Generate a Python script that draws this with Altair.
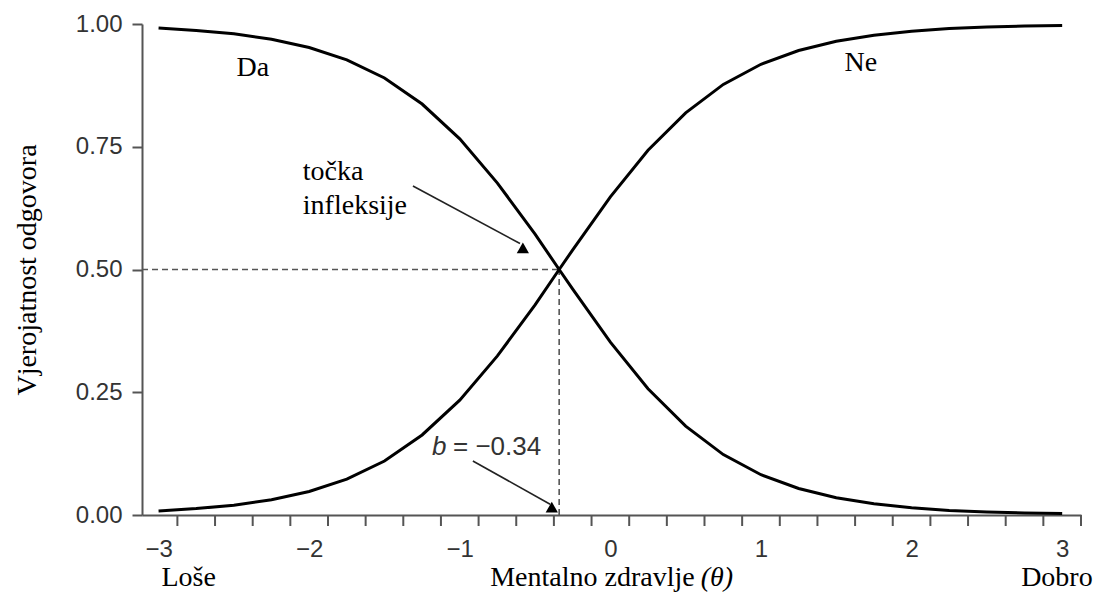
import altair as alt
import pandas as pd

# Item characteristic curves: probability of answering "Da" / "Ne" across theta
theta = [-3.0, -2.75, -2.5, -2.25, -2.0, -1.75, -1.5, -1.25, -1.0, -0.75, -0.5, -0.34,
         -0.25, 0.0, 0.25, 0.5, 0.75, 1.0, 1.25, 1.5, 1.75, 2.0, 2.25, 2.5, 2.75, 3.0]
p_ne = [0.008, 0.013, 0.020, 0.031, 0.048, 0.073, 0.110, 0.163, 0.234, 0.324, 0.428, 0.500,
        0.540, 0.648, 0.743, 0.819, 0.877, 0.918, 0.946, 0.965, 0.977, 0.985, 0.991, 0.994, 0.996, 0.997]
p_da = [0.992, 0.987, 0.980, 0.969, 0.952, 0.927, 0.890, 0.837, 0.766, 0.676, 0.572, 0.500,
        0.460, 0.352, 0.257, 0.181, 0.123, 0.082, 0.054, 0.035, 0.023, 0.015, 0.009, 0.006, 0.004, 0.003]

b_value = -0.34
x_ticks = [-3, -2, -1, 0, 1, 2, 3]
x_minor = [-2.875 + 0.25 * k for k in range(25)]
y_ticks = [0.0, 0.25, 0.5, 0.75, 1.0]

X_DOMAIN = [-3.11, 3.125]
W, H = 939, 491
SERIF = "Liberation Serif"
SANS = "Liberation Sans"

curves = pd.DataFrame({
    "theta": theta * 2,
    "p": p_ne + p_da,
    "odgovor": ["Ne"] * len(theta) + ["Da"] * len(theta),
})

xs = alt.Scale(domain=X_DOMAIN, nice=False, zero=False)
ys = alt.Scale(domain=[0, 1], nice=False, zero=False)

lines = alt.Chart(curves).mark_line(color="black", strokeWidth=3).encode(
    x=alt.X("theta:Q", scale=xs,
            axis=alt.Axis(values=x_ticks, format="d", title=None, grid=False,
                          ticks=False, labelPadding=22, labelFont=SANS,
                          labelFontSize=24, labelColor="#333", domainColor="#555",
                          domainWidth=2)),
    y=alt.Y("p:Q", scale=ys,
            axis=alt.Axis(values=y_ticks, format=".2f", title="Vjerojatnost odgovora",
                          grid=False, tickSize=10, tickWidth=2, tickColor="#555",
                          labelPadding=10, labelFont=SANS, labelFontSize=24,
                          labelColor="#333", domainColor="#555", domainWidth=2,
                          titleFont=SERIF, titleFontSize=28, titleFontWeight="normal",
                          titleColor="black", titlePadding=34)),
    detail="odgovor:N",
)

# minor tick marks under the x axis
minor = alt.Chart(pd.DataFrame({"t": x_minor})).mark_rule(
    color="#555", strokeWidth=2
).encode(x=alt.X("t:Q", scale=xs), y=alt.value(H), y2=alt.value(H + 11))

# dashed guides to the inflection point
guides = pd.DataFrame({
    "x": [X_DOMAIN[0], b_value],
    "y": [0.5, 0.0],
    "x2": [b_value, b_value],
    "y2": [0.5, 0.5],
})
dashes = alt.Chart(guides).mark_rule(
    color="#555", strokeWidth=1.6, strokeDash=[6, 4]
).encode(x=alt.X("x:Q", scale=xs), x2="x2:Q", y=alt.Y("y:Q", scale=ys), y2="y2:Q")

# annotation arrows
arrows = pd.DataFrame({
    "x": [-1.311, -0.913],
    "y": [0.670, 0.110],
    "x2": [-0.60, -0.40],
    "y2": [0.553, 0.022],
})
arrow_lines = alt.Chart(arrows).mark_rule(color="#222", strokeWidth=1.6).encode(
    x=alt.X("x:Q", scale=xs), x2="x2:Q", y=alt.Y("y:Q", scale=ys), y2="y2:Q")
heads = pd.DataFrame({"x": [-0.581, -0.389], "y": [0.544, 0.016]})
arrow_heads = alt.Chart(heads).mark_point(
    shape="triangle-up", filled=True, color="black", size=150, opacity=1
).encode(x=alt.X("x:Q", scale=xs), y=alt.Y("y:Q", scale=ys))

# serif labels
serif_txt = pd.DataFrame({
    "x": [-2.374, 1.663, -2.80, 2.965],
    "y": [0.910, 0.921, -0.128, -0.128],
    "t": ["Da", "Ne", "Loše", "Dobro"],
})
serif_marks = alt.Chart(serif_txt).mark_text(
    font=SERIF, fontSize=28, color="black", baseline="middle", align="center"
).encode(x=alt.X("x:Q", scale=xs), y=alt.Y("y:Q", scale=ys), text="t:N")

left_txt = pd.DataFrame({
    "x": [-2.042, -2.042],
    "y": [0.699, 0.629],
    "t": ["točka", "infleksije"],
})
left_marks = alt.Chart(left_txt).mark_text(
    font=SERIF, fontSize=28, color="black", baseline="middle", align="left"
).encode(x=alt.X("x:Q", scale=xs), y=alt.Y("y:Q", scale=ys), text="t:N")

xtitle_a = alt.Chart(pd.DataFrame({"x": [0.56], "y": [-0.128], "t": ["Mentalno zdravlje"]})).mark_text(
    font=SERIF, fontSize=28, color="black", baseline="middle", align="right"
).encode(x=alt.X("x:Q", scale=xs), y=alt.Y("y:Q", scale=ys), text="t:N")
xtitle_b = alt.Chart(pd.DataFrame({"x": [0.60], "y": [-0.128], "t": ["(θ)"]})).mark_text(
    font=SERIF, fontSize=28, fontStyle="italic", color="black", baseline="middle", align="left"
).encode(x=alt.X("x:Q", scale=xs), y=alt.Y("y:Q", scale=ys), text="t:N")

b_sym = alt.Chart(pd.DataFrame({"x": [-1.185], "y": [0.138], "t": ["b"]})).mark_text(
    font=SANS, fontSize=26, fontStyle="italic", color="#333", baseline="middle", align="left"
).encode(x=alt.X("x:Q", scale=xs), y=alt.Y("y:Q", scale=ys), text="t:N")
b_val = alt.Chart(pd.DataFrame({"x": [-1.045], "y": [0.138], "t": ["= −0.34"]})).mark_text(
    font=SANS, fontSize=26, color="#333", baseline="middle", align="left"
).encode(x=alt.X("x:Q", scale=xs), y=alt.Y("y:Q", scale=ys), text="t:N")

chart = alt.layer(
    dashes, minor, lines, arrow_lines, arrow_heads,
    serif_marks, left_marks, xtitle_a, xtitle_b, b_sym, b_val,
).properties(
    width=W, height=H,
    autosize=alt.AutoSizeParams(type="none"),
    padding={"left": 142, "top": 24, "right": 16, "bottom": 83},
    background="white",
).configure_view(stroke=None)

chart.save("out.html", embed_options={"renderer": "svg", "actions": False})
